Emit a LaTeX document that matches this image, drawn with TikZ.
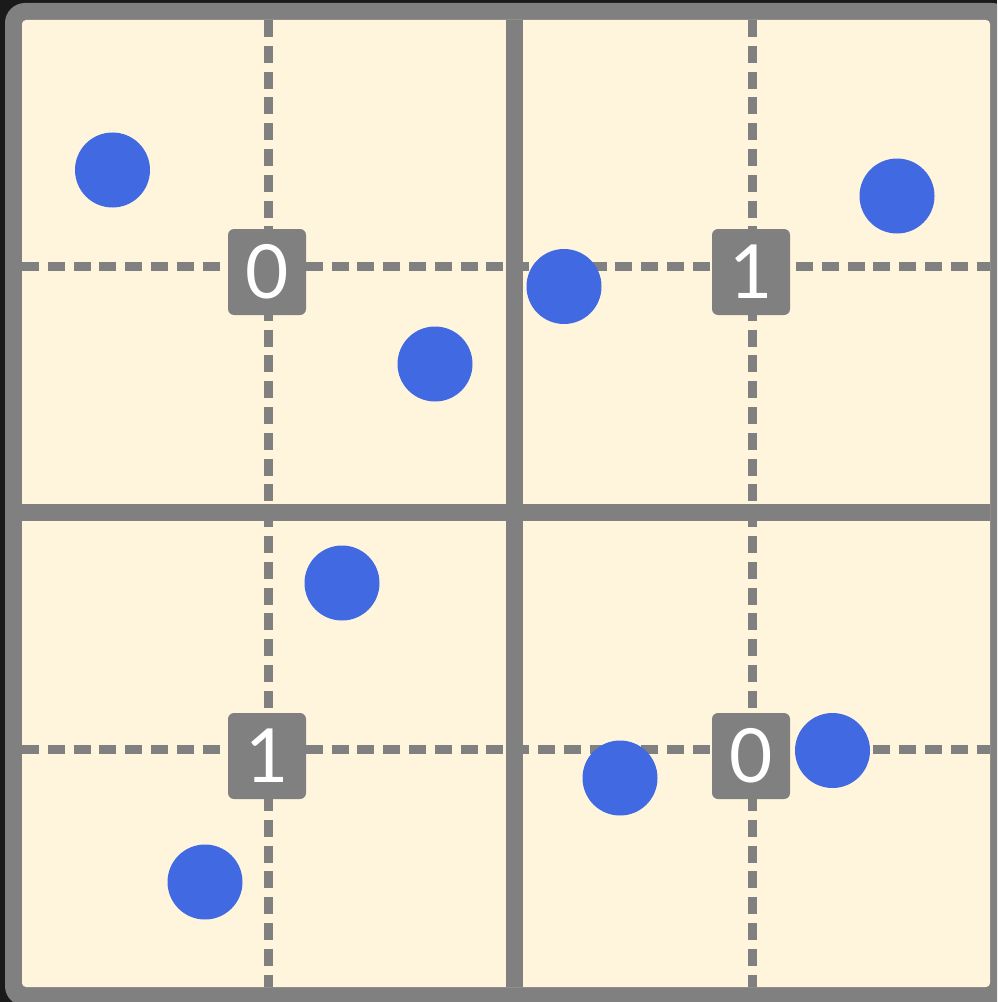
\documentclass[tikz,border=0pt]{standalone}
\usepackage{fontspec}
\newfontfamily\lblfont{Lato}
\definecolor{bgdark}{HTML}{1A1A1A}
\definecolor{framegray}{HTML}{808080}
\definecolor{paper}{HTML}{FEF5DC}
\definecolor{dotblue}{HTML}{4169E1}
\tikzset{
  minorline/.style={framegray, line width=6.75pt, dash pattern=on 12.75pt off 6.6pt},
  majorline/.style={framegray, line width=12.75pt},
  lblbox/.style={fill=framegray, rounded corners=4.5pt, minimum width=58.5pt, minimum height=64.5pt,
    inner sep=0pt, text=white, font=\lblfont\fontsize{56}{60}\selectfont},
  dotnode/.style={circle, fill=dotblue, minimum size=56.25pt, inner sep=0pt}
}
\newcommand{\lbltext}[1]{\raisebox{-2.25pt}{#1}}
\begin{document}
\begin{tikzpicture}[x=0.75pt,y=-0.75pt]
\useasboundingbox (0,0) rectangle (997,1002);
\clip (0,0) rectangle (997,1002);
\fill[bgdark] (0,0) rectangle (997,1002);
\fill[framegray, rounded corners=15pt] (5,3) rectangle (1012,1006);
\fill[paper, rounded corners=3pt] (22,20) rectangle (990,987);
% dashed grid lines
\coordinate (h1a) at (22,266);  \coordinate (h1b) at (990,266);
\coordinate (h2a) at (22,749.5); \coordinate (h2b) at (990,749.5);
\coordinate (v1a) at (268.5,20); \coordinate (v1b) at (268.5,987);
\coordinate (v2a) at (752,20);  \coordinate (v2b) at (752,987);
\draw[minorline] (h1a) -- (h1b);
\draw[minorline] (h2a) -- (h2b);
\draw[minorline] (v1a) -- (v1b);
\draw[minorline] (v2a) -- (v2b);
% major lines
\coordinate (ma) at (514,20); \coordinate (mb) at (514,987);
\coordinate (mc) at (22,512); \coordinate (md) at (990,512);
\draw[majorline] (ma) -- (mb);
\draw[majorline] (mc) -- (md);
% labels
\node[lblbox] (q1) at (267,272) {\lbltext{0}};
\node[lblbox] (q2) at (751,272) {\lbltext{1}};
\node[lblbox] (q3) at (267,756) {\lbltext{1}};
\node[lblbox] (q4) at (751,756) {\lbltext{0}};
% dots
\node[dotnode] (p1) at (112.5,170) {};
\node[dotnode] (p2) at (435,364) {};
\node[dotnode] (p3) at (564,286.5) {};
\node[dotnode] (p4) at (897,196) {};
\node[dotnode] (p5) at (342,583) {};
\node[dotnode] (p6) at (205,882) {};
\node[dotnode] (p7) at (620,778) {};
\node[dotnode] (p8) at (832.5,750.5) {};
\end{tikzpicture}
\end{document}
